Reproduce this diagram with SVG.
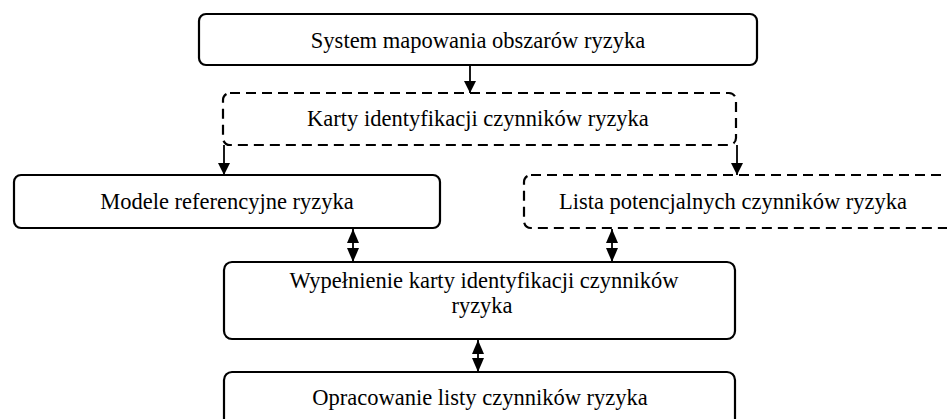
<svg xmlns="http://www.w3.org/2000/svg" width="947" height="419" viewBox="0 0 947 419">
<style>
.box{fill:#fff;stroke:#000;stroke-width:2.2}
.dash{stroke-dasharray:10 6}
.t{font-family:"Liberation Serif","Times New Roman",serif;font-size:22.5px;fill:#000;text-anchor:middle}
.c{stroke:#000;stroke-width:1.8;fill:none}
</style>
<defs>
<marker id="ah" viewBox="0 0 12 12" refX="12" refY="6" markerWidth="13" markerHeight="12" markerUnits="userSpaceOnUse" orient="auto">
<path d="M0,0 L12,6 L0,12 Z" fill="#000"/>
</marker>
<marker id="dh" viewBox="0 0 14 12" refX="14" refY="6" markerWidth="14" markerHeight="12" markerUnits="userSpaceOnUse" orient="auto-start-reverse">
<path d="M0,0 L14,6 L0,12 Z" fill="#000"/>
</marker>
</defs>
<g id="n1"><rect class="box" x="199" y="14" width="558" height="51" rx="7"/><text class="t" x="478" y="48">System mapowania obszarów ryzyka</text></g>
<g id="n2"><rect class="box dash" x="223" y="93" width="513" height="52" rx="7"/><text class="t" x="478" y="126">Karty identyfikacji czynników ryzyka</text></g>
<g id="n3"><rect class="box" x="14" y="175" width="426" height="53" rx="7"/><text class="t" x="227" y="209">Modele referencyjne ryzyka</text></g>
<g id="n4"><rect class="box dash" x="524" y="175" width="440" height="53" rx="7"/><text class="t" x="733" y="209">Lista potencjalnych czynników ryzyka</text></g>
<g id="n5"><rect class="box" x="224" y="262" width="511" height="77" rx="8"/><text class="t" x="484" y="288">Wypełnienie karty identyfikacji czynników</text><text class="t" x="482" y="313">ryzyka</text></g>
<g id="n6"><rect class="box" x="224" y="372" width="511" height="60" rx="8"/><text class="t" x="480" y="405">Opracowanie listy czynników ryzyka</text></g>
<g id="connectors">
<line class="c" x1="470" y1="65" x2="470" y2="93" marker-end="url(#ah)"/>
<line class="c" x1="224" y1="145" x2="224" y2="175" marker-end="url(#ah)"/>
<line class="c" x1="737" y1="145" x2="737" y2="175" marker-end="url(#ah)"/>
<line class="c" x1="353" y1="229" x2="353" y2="262" marker-start="url(#dh)" marker-end="url(#dh)"/>
<line class="c" x1="612" y1="229" x2="612" y2="262" marker-start="url(#dh)" marker-end="url(#dh)"/>
<line class="c" x1="478" y1="340" x2="478" y2="372" marker-start="url(#dh)" marker-end="url(#dh)"/>
</g>
</svg>
